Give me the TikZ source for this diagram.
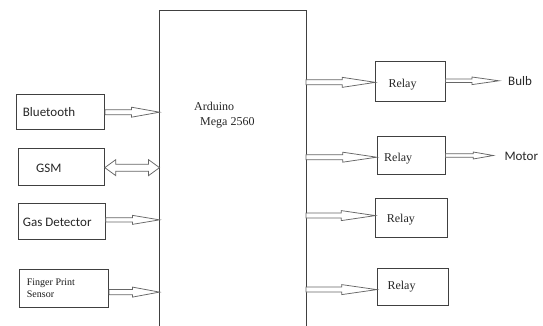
\documentclass[tikz,border=0pt]{standalone}
\usepackage{fontspec}
\setmainfont{Liberation Serif}
\newfontfamily\sansf{Carlito}
\usetikzlibrary{calc}
\tikzset{
  box/.style={draw=black!75, line width=0.8pt, inner sep=0pt, anchor=north west},
  arr/.style={draw=black!60, line width=0.75pt, fill=white, line join=miter},
  slbl/.style={font=\sansf\fontsize{13}{15}\selectfont, inner sep=0pt, anchor=base west, text=black!85},
  rlbl/.style={font=\fontsize{12}{14}\selectfont, inner sep=0pt, anchor=base west, text=black!85},
  flbl/.style={font=\fontsize{10}{12}\selectfont, inner sep=0pt, anchor=base west, text=black!90},
}
% #1 start, #2 end (x), #3 y shift (px, down), #4 head length, #5 shaft half, #6 head half
\newcommand\harrow[6]{\draw[arr] let \p1=#1, \p2=#2 in
  (\x1,\y1-#3pt+#5pt) -- (\x2-#4pt,\y1-#3pt+#5pt) -- (\x2-#4pt,\y1-#3pt+#6pt) -- (\x2,\y1-#3pt)
  -- (\x2-#4pt,\y1-#3pt-#6pt) -- (\x2-#4pt,\y1-#3pt-#5pt) -- (\x1,\y1-#3pt-#5pt) -- cycle;}
\newcommand\dharrow[6]{\draw[arr] let \p1=#1, \p2=#2 in
  (\x1,\y1-#3pt) -- (\x1+#4pt,\y1-#3pt+#6pt) -- (\x1+#4pt,\y1-#3pt+#5pt) -- (\x2-#4pt,\y1-#3pt+#5pt)
  -- (\x2-#4pt,\y1-#3pt+#6pt) -- (\x2,\y1-#3pt) -- (\x2-#4pt,\y1-#3pt-#6pt) -- (\x2-#4pt,\y1-#3pt-#5pt)
  -- (\x1+#4pt,\y1-#3pt-#5pt) -- (\x1+#4pt,\y1-#3pt-#6pt) -- cycle;}
\begin{document}
\begin{tikzpicture}[x=1pt,y=-1pt]
\useasboundingbox (0,0) rectangle (543,326);
% Arduino (open at the bottom)
\node[inner sep=0pt, anchor=north west, minimum width=146.2pt, minimum height=320pt] (ard) at (159.5,10.5) {};
\draw[black!75, line width=0.8pt] (ard.south west) -- (ard.north west) -- (ard.north east) -- (ard.south east);
\node[rlbl] (ardt1) at (194,111) {Arduino};
\node[rlbl] (ardt2) at (200,125) {Mega 2560};
% input boxes
\node[box, minimum width=88.3pt, minimum height=35pt] (bt) at (16,94.3) {};
\node[slbl] (btt) at (22.7,116.5) {Bluetooth};
\node[box, minimum width=85.7pt, minimum height=36.7pt] (gsm) at (18.3,148.3) {};
\node[slbl] (gsmt) at (36,172) {GSM};
\node[box, minimum width=86.7pt, minimum height=36.3pt] (gd) at (18.3,202.7) {};
\node[slbl] (gdt) at (22.7,226) {Gas Detector};
\node[box, minimum width=89.3pt, minimum height=38pt] (fp) at (19,269.3) {};
\node[flbl] (fpt1) at (26.7,285) {Finger Print};
\node[flbl] (fpt2) at (26.7,297.7) {Sensor};
% relays
\node[box, minimum width=69.4pt, minimum height=39.7pt] (r1) at (375.3,61.3) {};
\node[rlbl] (r1t) at (388.3,87.3) {Relay};
\node[box, minimum width=68pt, minimum height=38pt] (r2) at (376.7,136) {};
\node[rlbl] (r2t) at (384,161.7) {Relay};
\node[box, minimum width=71.7pt, minimum height=39pt] (r3) at (375.3,198.3) {};
\node[rlbl] (r3t) at (386.7,222.3) {Relay};
\node[box, minimum width=71.6pt, minimum height=37pt] (r4) at (376.7,268) {};
\node[rlbl] (r4t) at (387.3,289) {Relay};
% outputs
\node[slbl] (bulb) at (508,85.7) {Bulb};
\node[slbl] (motor) at (504.3,160.7) {Motor};
\coordinate (bulbtip) at (499,80.8);
\coordinate (motortip) at (493.3,155.5);
% input arrows
\harrow{(bt.east)}{(ard.west)}{0}{28}{2.5}{5}
\dharrow{(gsm.east)}{(ard.west)}{0.6}{11}{3.5}{8}
\harrow{(gd.east)}{(ard.west)}{-1.4}{27}{2.2}{4.5}
\harrow{(fp.east)}{(ard.west)}{3.4}{27}{2.7}{5}
% relay arrows
\harrow{(ard.east |- r1.west)}{(r1.west)}{0.8}{33}{2.5}{5}
\harrow{(ard.east |- r2.west)}{(r2.west)}{1.8}{34}{2.5}{5}
\harrow{(ard.east |- r3.west)}{(r3.west)}{-2.6}{34}{2.5}{5}
\harrow{(ard.east |- r4.west)}{(r4.west)}{2.7}{35}{2.5}{5}
% output arrows
\harrow{(r1.east |- bulbtip)}{(bulbtip)}{0}{27}{1.8}{3.8}
\harrow{(r2.east |- motortip)}{(motortip)}{0}{20}{1.8}{3.5}
\end{tikzpicture}
\end{document}
